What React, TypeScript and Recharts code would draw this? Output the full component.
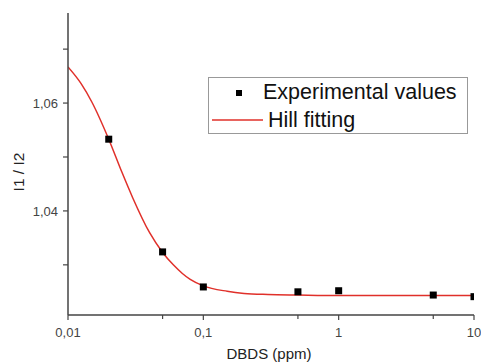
import {
  ComposedChart,
  Scatter,
  Line,
  XAxis,
  YAxis,
  Legend,
} from "recharts";

const FONT = '"Liberation Sans", Arial, sans-serif';

// measured points
const dbds = [0.02, 0.05, 0.1, 0.5, 1, 5, 10];
const ratio = [1.0533, 1.0324, 1.0259, 1.025, 1.0252, 1.0244, 1.0241];

// hill fit curve
const fitX = [0.01, 0.0125, 0.015, 0.02, 0.025, 0.03, 0.04, 0.05, 0.06, 0.07, 0.08, 0.1, 0.15, 0.2, 0.3, 0.5, 1, 10];
const fitY = [1.0667, 1.0636, 1.0602, 1.0533, 1.0472, 1.0425, 1.036, 1.0323, 1.03, 1.0284, 1.0273, 1.0261, 1.0251, 1.0247, 1.0245, 1.0244, 1.0243, 1.0243];

const xTicks = [0.01, 0.05, 0.1, 0.5, 1, 5, 10];
const xLabeled = [0.01, 0.1, 1, 10];
const yTicks = [1.03, 1.04, 1.05, 1.06, 1.07];
const yLabeled = [1.04, 1.06];

const points = dbds.map((x, i) => ({ x, y: ratio[i] }));
const curve = fitX.map((x, i) => ({ x, y: fitY[i] }));

const comma = (v: number, digits: number) => v.toFixed(digits).replace(".", ",");

function XTick({ x, y, payload }: any) {
  const major = xLabeled.includes(payload.value);
  const v = payload.value;
  const label = v >= 1 ? String(v) : comma(v, v < 0.1 ? 2 : 1);
  return (
    <g>
      <line x1={x} x2={x} y1={y} y2={y + (major ? 5 : 4)} stroke="#444" strokeWidth={1.2} />
      {major && (
        <text x={x} y={y + 22} textAnchor="middle" fontSize={13} fill="#444" fontFamily={FONT}>
          {label}
        </text>
      )}
    </g>
  );
}

function YTick({ x, y, payload }: any) {
  const major = yLabeled.includes(payload.value);
  return (
    <g>
      <line x1={x - 5} x2={x} y1={y} y2={y} stroke="#444" strokeWidth={1.2} />
      {major && (
        <text x={x - 10} y={y + 5} textAnchor="end" fontSize={13} fill="#444" fontFamily={FONT}>
          {comma(payload.value, 2)}
        </text>
      )}
    </g>
  );
}

function XTitle({ viewBox }: any) {
  const cx = viewBox.x + viewBox.width / 2;
  return (
    <text x={cx - 2} y={359} textAnchor="middle" fontSize={15} fill="#222" fontFamily={FONT}>
      DBDS (ppm)
    </text>
  );
}

function YTitle() {
  return (
    <text
      x={0}
      y={0}
      transform="translate(24 172) rotate(-90)"
      textAnchor="middle"
      fontSize={15.5}
      fill="#222"
      fontFamily={FONT}
    >
      I1 / I2
    </text>
  );
}

function Square({ cx, cy }: any) {
  return <rect x={cx - 3.5} y={cy - 3.5} width={7} height={7} fill="#000" />;
}

function LegendBox() {
  return (
    <div
      style={{
        border: "1px solid #999",
        background: "#fff",
        fontFamily: FONT,
        fontSize: 21.5,
        color: "#111",
        boxSizing: "border-box",
        width: 260,
        height: 57,
        lineHeight: "28px",
        paddingTop: 0,
      }}
    >
      <div style={{ display: "flex", alignItems: "center" }}>
        <svg width={54} height={28}>
          <rect x={27} y={12} width={6} height={6} fill="#000" />
        </svg>
        <span>Experimental values</span>
      </div>
      <div style={{ display: "flex", alignItems: "center" }}>
        <svg width={59} height={28}>
          <line x1={3} x2={54} y1={14} y2={14} stroke="#e0302a" strokeWidth={1.5} />
        </svg>
        <span>Hill fitting</span>
      </div>
    </div>
  );
}

export default function App() {
  return (
    <div style={{ position: "absolute", left: 0, top: 0, background: "#fff" }}>
      <ComposedChart width={481} height={363} margin={{ top: 13, right: 7, bottom: 8, left: 8 }}>
        <XAxis
          dataKey="x"
          type="number"
          scale="log"
          domain={[0.01, 10]}
          ticks={xTicks}
          allowDataOverflow
          interval={0}
          tick={<XTick />}
          tickLine={false}
          tickSize={0}
          tickMargin={0}
          height={40}
          stroke="#444"
          strokeWidth={1.5}
          label={<XTitle />}
        />
        <YAxis
          dataKey="y"
          type="number"
          domain={[1.0207, 1.0767]}
          ticks={yTicks}
          allowDataOverflow
          interval={0}
          tick={<YTick />}
          tickLine={false}
          tickSize={0}
          tickMargin={0}
          width={60}
          stroke="#444"
          strokeWidth={1.5}
          label={<YTitle />}
        />
        <Legend
          layout="horizontal"
          verticalAlign="middle"
          align="center"
          content={<LegendBox />}
          wrapperStyle={{ left: 208, top: 77, width: 260, height: 57 }}
        />
        <Line
          data={curve}
          dataKey="y"
          type="monotone"
          stroke="#e0302a"
          strokeWidth={1.5}
          dot={false}
          isAnimationActive={false}
        />
        <Scatter data={points} dataKey="y" shape={<Square />} isAnimationActive={false} />
      </ComposedChart>
    </div>
  );
}
